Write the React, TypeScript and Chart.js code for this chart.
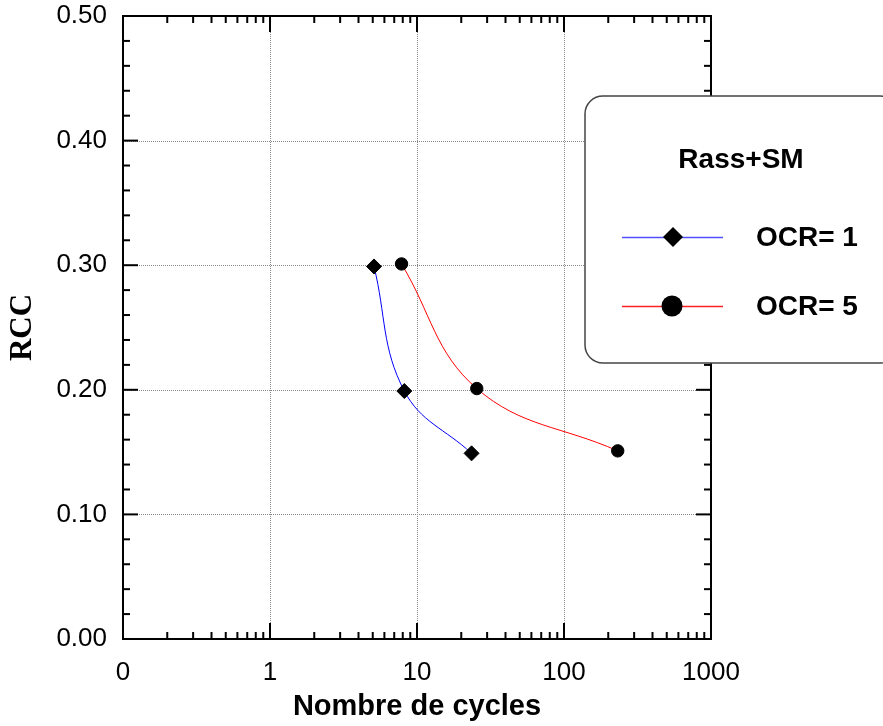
import React, { useEffect, useRef } from "react";
import { Chart, registerables } from "chart.js";

Chart.register(...registerables);

// ---- data ----
const ocr1Cycles = [5.1, 8.2, 23.5];
const ocr1Rcc = [0.299, 0.199, 0.149];
const ocr5Cycles = [7.85, 25.5, 232];
const ocr5Rcc = [0.301, 0.201, 0.151];
const xMajorTicks = [0.1, 1, 10, 100, 1000];
const xTickLabels = ["0", "1", "10", "100", "1000"];
const yTicks = [0, 0.1, 0.2, 0.3, 0.4, 0.5];
const seriesLabels = ["OCR= 1", "OCR= 5"];
const legendTitle = "Rass+SM";
const xTitle = "Nombre de cycles";
const yTitle = "RCC";

const SANS = "'Liberation Sans', Arial, sans-serif";
const SERIF = "'Liberation Serif', 'Times New Roman', serif";

const framePlugin = {
  id: "frameTicks",
  beforeDatasetsDraw(chart: any) {
    const { ctx, chartArea: a, scales } = chart;
    const x = scales.x;
    const y = scales.y;
    ctx.save();
    // dotted grid
    ctx.strokeStyle = "#8a8a8a";
    ctx.lineWidth = 1;
    ctx.setLineDash([1, 1]);
    xMajorTicks.slice(1, -1).forEach((v) => {
      const px = Math.round(x.getPixelForValue(v)) + 0.5;
      ctx.beginPath();
      ctx.moveTo(px, a.top);
      ctx.lineTo(px, a.bottom);
      ctx.stroke();
    });
    yTicks.slice(1, -1).forEach((v) => {
      const py = Math.round(y.getPixelForValue(v)) + 0.5;
      ctx.beginPath();
      ctx.moveTo(a.left, py);
      ctx.lineTo(a.right, py);
      ctx.stroke();
    });
    ctx.setLineDash([]);
    // ticks
    ctx.strokeStyle = "#000";
    ctx.lineWidth = 2;
    const seg = (x1: number, y1: number, x2: number, y2: number) => {
      ctx.beginPath();
      ctx.moveTo(x1, y1);
      ctx.lineTo(x2, y2);
      ctx.stroke();
    };
    for (let d = 0; d < xMajorTicks.length - 1; d++) {
      const base = xMajorTicks[d];
      for (let k = 2; k <= 9; k++) {
        const px = x.getPixelForValue(base * k);
        seg(px, a.bottom, px, a.bottom - 7);
        seg(px, a.top, px, a.top + 7);
      }
      if (d > 0) {
        const px = x.getPixelForValue(base);
        seg(px, a.bottom, px, a.bottom - 16);
        seg(px, a.top, px, a.top + 16);
      }
    }
    for (let i = 1; i < 25; i++) {
      const v = i * 0.02;
      const py = y.getPixelForValue(v);
      const major = i % 5 === 0;
      const len = major ? 15 : 7;
      seg(a.left, py, a.left + len, py);
      seg(a.right, py, a.right - len, py);
    }
    ctx.strokeRect(a.left, a.top, a.right - a.left, a.bottom - a.top);
    ctx.restore();
  },
};

const legendPlugin = {
  id: "customLegend",
  afterDraw(chart: any) {
    const { ctx } = chart;
    ctx.save();
    ctx.beginPath();
    (ctx as any).roundRect(585, 96, 313, 267, 18);
    ctx.fillStyle = "#fff";
    ctx.fill();
    ctx.strokeStyle = "#444";
    ctx.lineWidth = 1.5;
    ctx.stroke();

    ctx.fillStyle = "#000";
    ctx.font = `bold 28px ${SANS}`;
    ctx.textAlign = "center";
    ctx.textBaseline = "middle";
    ctx.fillText(legendTitle, 741, 160);

    const ds = chart.data.datasets;
    const rows = [237, 306];
    rows.forEach((ry, i) => {
      ctx.strokeStyle = i === 0 ? "#5050ff" : "#ff2020";
      ctx.lineWidth = 1.3;
      ctx.beginPath();
      ctx.moveTo(622, ry + 0.5);
      ctx.lineTo(723, ry + 0.5);
      ctx.stroke();
      ctx.fillStyle = "#000";
      ctx.beginPath();
      if (i === 0) {
        const r = 10;
        ctx.moveTo(673 - r, ry);
        ctx.lineTo(673, ry - r);
        ctx.lineTo(673 + r, ry);
        ctx.lineTo(673, ry + r);
        ctx.closePath();
      } else {
        ctx.arc(672, ry, 10.5, 0, Math.PI * 2);
      }
      ctx.fill();
      ctx.font = `bold 28px ${SANS}`;
      ctx.textAlign = "left";
      ctx.textBaseline = "middle";
      ctx.fillText(ds[i].label, 756, ry + 1);
    });
    ctx.restore();
  },
};

export default function App() {
  const ref = useRef<HTMLCanvasElement | null>(null);
  useEffect(() => {
    document.body.style.margin = "0";
    const canvas = ref.current;
    if (!canvas) return;
    const chart = new Chart(canvas, {
      type: "line",
      data: {
        datasets: [
          {
            label: seriesLabels[0],
            data: ocr1Cycles.map((c, i) => ({ x: c, y: ocr1Rcc[i] })),
            borderColor: "#0000ff",
            borderWidth: 1,
            tension: 0.4,
            pointStyle: "rectRot",
            pointRadius: 7.5,
            pointBorderWidth: 1,
            pointBackgroundColor: "#000",
            pointBorderColor: "#000",
          },
          {
            label: seriesLabels[1],
            data: ocr5Cycles.map((c, i) => ({ x: c, y: ocr5Rcc[i] })),
            borderColor: "#ff0000",
            borderWidth: 1,
            tension: 0.4,
            pointStyle: "circle",
            pointRadius: 6.2,
            pointBorderWidth: 1,
            pointBackgroundColor: "#000",
            pointBorderColor: "#000",
          },
        ],
      },
      options: {
        animation: false,
        responsive: false,
        devicePixelRatio: 1,
        layout: { padding: { top: 16, right: 172, left: 0, bottom: 0 } },
        plugins: { legend: { display: false }, tooltip: { enabled: false } },
        scales: {
          x: {
            type: "logarithmic",
            min: 0.1,
            max: 1000,
            afterBuildTicks: (s: any) => {
              s.ticks = xMajorTicks.map((v) => ({ value: v }));
            },
            afterFit: (s: any) => {
              s.height = 87;
              s.paddingLeft = 0;
              s.paddingRight = 0;
            },
            grid: { display: false, drawTicks: false },
            border: { display: false },
            ticks: {
              autoSkip: false,
              maxRotation: 0,
              padding: 18,
              color: "#000",
              font: { family: SANS, size: 26 },
              callback: (_v: any, i: number) => xTickLabels[i],
            },
            title: {
              display: true,
              text: xTitle,
              color: "#000",
              font: { family: SANS, size: 29, weight: "bold" },
              padding: { top: 0, bottom: 2 },
            },
          },
          y: {
            type: "linear",
            min: 0,
            max: 0.5,
            afterBuildTicks: (s: any) => {
              s.ticks = yTicks.map((v) => ({ value: v }));
            },
            afterFit: (s: any) => {
              s.width = 123;
              s.paddingTop = 0;
              s.paddingBottom = 0;
            },
            grid: { display: false, drawTicks: false },
            border: { display: false },
            ticks: {
              padding: 16,
              color: "#000",
              font: { family: SANS, size: 26 },
              callback: (v: any) => Number(v).toFixed(2),
            },
            title: {
              display: true,
              text: yTitle,
              color: "#000",
              font: { family: SERIF, size: 31, weight: "bold" },
              padding: { top: 4, bottom: 0 },
            },
          },
        },
      },
      plugins: [framePlugin, legendPlugin],
    } as any);
    return () => chart.destroy();
  }, []);
  return (
    <div style={{ width: 883, height: 726 }}>
      <canvas ref={ref} width={883} height={726} />
    </div>
  );
}
